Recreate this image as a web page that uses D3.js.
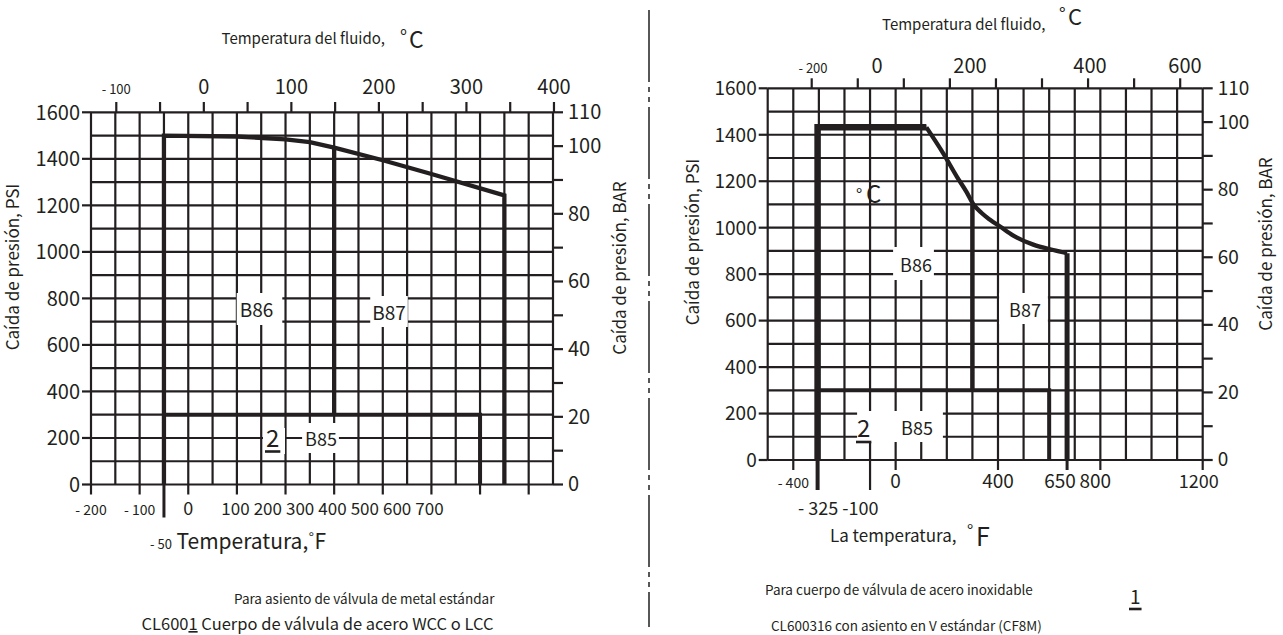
<!DOCTYPE html>
<html>
<head>
<meta charset="utf-8">
<script src="https://cdn.jsdelivr.net/npm/d3@7.9.0/dist/d3.min.js"></script>
<style>
  body { margin: 0; background: #fff; }
  svg { display: block; font-family: "Noto Sans CJK SC", "Noto Sans", sans-serif; }
</style>
</head>
<body>
<svg id="chart" width="1283" height="635"></svg>
<script>
// shared pressure axes
const psiGrid = [0, 100, 200, 300, 400, 500, 600, 700, 800, 900, 1000, 1100, 1200, 1300, 1400, 1500, 1600];
const psiLabels = [0, 200, 400, 600, 800, 1000, 1200, 1400, 1600];
const barTicks = [0, 10, 20, 30, 40, 50, 60, 70, 80, 90, 100, 110];
const barLabels = [0, 20, 40, 60, 80, 100, 110];

// left chart (WCC / LCC), x in degF
const leftFGrid = [-200, -150, -100, -50, 0, 50, 100, 150, 200, 250, 300, 350, 400, 450, 500, 550, 600, 650, 700, 750];
const leftFTicks = [-200, -100, 0, 100, 200, 300, 400, 500, 600, 700];
const leftFLabels = ['- 200', '- 100', '0'];
const leftFLabelAt = [-200, -100, 0];
const leftFPacked = ['100', '200', '300', '400', '500', '600', '700'];
const leftCTicks = [-100, -50, 0, 50, 100, 150, 200, 250, 300, 350, 400];
const leftCLabels = [-100, 0, 100, 200, 300, 400];
const leftCurve = [[-50, 1500], [100, 1496], [200, 1484], [250, 1472], [300, 1448], [400, 1394], [500, 1335], [650, 1243]];
const leftEdges = [-50, 300, 600, 650];   // cold limit, B86/B87 split, B85 end, hot limit
const b85Psi = 300;

// right chart (CF8M), x in degF
const rightFGrid = [-500, -400, -300, -200, -100, 0, 100, 200, 300, 400, 500, 600, 700, 800, 900, 1000, 1100, 1200];
const rightFTicks = [-400, 0, 400, 800, 1200];
const rightFLabels = ['- 400', '0', '400', '650', '800', '1200'];
const rightFLabelAt = [-400, 0, 400, 650, 800, 1200];
const rightCTicks = [-200, -100, 0, 100, 200, 300, 400, 500, 600];
const rightCLabels = [-200, 0, 200, 400, 600];
const rightTop = [[-305, 1432], [120, 1432]];
const rightCurve = [[120, 1432], [186, 1320], [239, 1220], [278, 1152], [303, 1102], [336, 1063],
                    [369, 1034], [408, 1005], [460, 966], [538, 927], [616, 904], [670, 890]];
const rightEdges = [-305, 300, 600, 670];

const ink = '#231f20';
const svg = d3.select('#chart');
svg.append('rect').attr('width', 1283).attr('height', 635).attr('fill', '#fff');

const c2f = c => c * 1.8 + 32;

function txt(g, s, x, y, size, anchor) {
  return g.append('text').attr('x', x).attr('y', y).attr('font-size', size)
    .attr('text-anchor', anchor || 'start').attr('fill', ink).text(s);
}

function boxed(g, s, x, y, size, pad) {
  const t = txt(g, s, x, y, size, 'middle');
  const b = t.node().getBBox();
  g.insert('rect', () => t.node())
    .attr('x', b.x - pad[0]).attr('y', b.y - pad[1])
    .attr('width', b.width + pad[0] + pad[2]).attr('height', b.height + pad[1] + pad[3])
    .attr('fill', '#fff');
  return t;
}

function underlined(g, s, x, y, size) {
  const t = txt(g, s, x, y, size);
  const b = t.node().getBBox();
  g.append('line').attr('x1', b.x - 1).attr('x2', b.x + b.width + 1)
    .attr('y1', y + 5).attr('y2', y + 5).attr('stroke', ink).attr('stroke-width', 2.6);
}

function drawGrid(g, x, y, fGrid) {
  g.selectAll('.gv').data(fGrid).join('line').attr('class', 'gv')
    .attr('x1', d => x(d)).attr('x2', d => x(d)).attr('y1', y(0)).attr('y2', y(1600))
    .attr('stroke', ink).attr('stroke-width', 2.2);
  g.selectAll('.gh').data(psiGrid).join('line').attr('class', 'gh')
    .attr('x1', x.range()[0]).attr('x2', x.range()[1]).attr('y1', d => y(d)).attr('y2', d => y(d))
    .attr('stroke', ink).attr('stroke-width', 2.2);
}

function drawPressureAxes(g, x, y, bar, size) {
  const x0 = x.range()[0], x1 = x.range()[1];
  g.selectAll('.pt').data(psiLabels).join('line').attr('class', 'pt')
    .attr('x1', x0 - 9).attr('x2', x0).attr('y1', d => y(d)).attr('y2', d => y(d))
    .attr('stroke', ink).attr('stroke-width', 2.2);
  g.selectAll('.pl').data(psiLabels).join('text').attr('class', 'pl')
    .attr('x', x0 - 11).attr('y', d => y(d)).attr('dy', '0.36em')
    .attr('text-anchor', 'end').attr('font-size', size).attr('fill', ink).text(d => d);
  g.selectAll('.bt').data(barTicks).join('line').attr('class', 'bt')
    .attr('x1', x1).attr('x2', x1 + 10).attr('y1', d => bar(d)).attr('y2', d => bar(d))
    .attr('stroke', ink).attr('stroke-width', 2.2);
  g.selectAll('.bl').data(barLabels).join('text').attr('class', 'bl')
    .attr('x', x1 + 15).attr('y', d => bar(d)).attr('dy', '0.34em')
    .attr('font-size', size).attr('fill', ink).text(d => d);
}

function vlabel(g, s, x, y) {
  g.append('text').attr('transform', `translate(${x},${y}) rotate(-90)`)
    .attr('text-anchor', 'middle').attr('dy', '0.35em').attr('font-size', 17)
    .attr('fill', ink).text(s);
}

function thick(g, pts, x, y, w, curve) {
  const line = d3.line().x(d => x(d[0])).y(d => y(d[1])).curve(curve || d3.curveLinear);
  g.append('path').attr('d', line(pts)).attr('fill', 'none')
    .attr('stroke', ink).attr('stroke-width', w).attr('stroke-linejoin', 'miter');
}

// ---------------- left chart ----------------
{
  const g = svg.append('g');
  const x = d3.scaleLinear().domain([-200, 750]).range([91, 553]);
  const y = d3.scaleLinear().domain([0, 1600]).range([484.5, 112.3]);
  const bar = d3.scaleLinear().domain([0, 110]).range([484.5, 112.3]);

  drawGrid(g, x, y, leftFGrid);

  // top degC axis
  g.selectAll('.ct').data(leftCTicks).join('line').attr('class', 'ct')
    .attr('x1', d => x(c2f(d))).attr('x2', d => x(c2f(d))).attr('y1', 102).attr('y2', y(1600))
    .attr('stroke', ink).attr('stroke-width', 2.2);
  g.selectAll('.cl').data(leftCLabels).join('text').attr('class', 'cl')
    .attr('x', d => x(c2f(d))).attr('y', 94).attr('text-anchor', 'middle')
    .attr('font-size', d => d < 0 ? 13 : 20).attr('fill', ink)
    .text(d => d < 0 ? '- ' + (-d) : d);

  // bottom degF axis
  g.selectAll('.ft').data(leftFTicks).join('line').attr('class', 'ft')
    .attr('x1', d => x(d)).attr('x2', d => x(d)).attr('y1', y(0)).attr('y2', y(0) + 10)
    .attr('stroke', ink).attr('stroke-width', 2.2);
  g.selectAll('.fl').data(leftFLabels).join('text').attr('class', 'fl')
    .attr('x', (d, i) => x(leftFLabelAt[i])).attr('y', 515).attr('text-anchor', 'middle')
    .attr('font-size', (d, i) => i < 2 ? 14 : 18).attr('fill', ink).text(d => d);
  const packed = d3.scalePoint().domain(leftFPacked).range([235.5, 429.5]);
  g.selectAll('.fp').data(leftFPacked).join('text').attr('class', 'fp')
    .attr('x', d => packed(d)).attr('y', 515).attr('text-anchor', 'middle')
    .attr('font-size', 17).attr('fill', ink).text(d => d);

  drawPressureAxes(g, x, y, bar, 20);

  // limits
  thick(g, [[leftEdges[0], 0], ...leftCurve, [leftEdges[3], 0]], x, y, 4.3);
  g.append('line').attr('x1', x(leftEdges[0])).attr('x2', x(leftEdges[0]))
    .attr('y1', y(0)).attr('y2', y(0) + 33).attr('stroke', ink).attr('stroke-width', 3);
  thick(g, [[leftEdges[1], b85Psi], [leftEdges[1], 1448]], x, y, 4.3);
  thick(g, [[leftEdges[0], b85Psi], [leftEdges[2], b85Psi], [leftEdges[2], 0]], x, y, 4);

  boxed(g, 'B86', 256.5, 317, 19, [3, 2, 9, 3]);
  boxed(g, 'B87', 389, 320, 19, [2, 2, 2, 2]);
  boxed(g, 'B85', 321, 446, 18, [3, 2, 2, 2]);
  g.append('rect').attr('x', 263).attr('y', 428).attr('width', 22).attr('height', 26).attr('fill', '#fff');
  underlined(g, '2', 266, 446.5, 24);

  // titles
  txt(g, 'Temperatura del fluido,', 221.5, 44, 15);
  txt(g, '°', 400, 44, 19);
  txt(g, 'C', 409, 47.5, 23);
  txt(g, '- 50', 150, 549, 13);
  const tf = txt(g, 'Temperatura,', 176.5, 549, 21);
  const tfEnd = tf.node().getBBox();
  const deg = txt(g, '°', tfEnd.x + tfEnd.width + 0.5, 543, 14);
  const degBox = deg.node().getBBox();
  txt(g, 'F', degBox.x + degBox.width + 0.5, 549, 21);
  vlabel(g, 'Caída de presión, PSI', 13, 267);
  vlabel(g, 'Caída de presión, BAR', 620, 268);

  txt(g, 'Para asiento de válvula de metal estándar', 234, 604, 13.5);
  const cl = txt(g, 'CL600', 141.5, 630, 16.5);
  cl.append('tspan').attr('text-decoration', 'underline').text('1');
  cl.append('tspan').text(' Cuerpo de válvula de acero WCC o LCC');
}

// divider
svg.append('line').attr('x1', 649).attr('x2', 649).attr('y1', 10).attr('y2', 627)
  .attr('stroke', ink).attr('stroke-width', 1.5).attr('stroke-dasharray', '72,5,5,5,5,5');

// ---------------- right chart ----------------
{
  const g = svg.append('g');
  const x = d3.scaleLinear().domain([-500, 1200]).range([767.7, 1202.7]);
  const y = d3.scaleLinear().domain([0, 1600]).range([460, 88.3]);
  const bar = d3.scaleLinear().domain([0, 110]).range([460, 88.3]);

  drawGrid(g, x, y, rightFGrid);

  // top degC axis
  g.selectAll('.ct').data(rightCTicks).join('line').attr('class', 'ct')
    .attr('x1', d => x(c2f(d))).attr('x2', d => x(c2f(d))).attr('y1', 78.3).attr('y2', y(1600))
    .attr('stroke', ink).attr('stroke-width', 2.2);
  // labels as printed (not all centred on their ticks)
  const cLabelX = d3.scaleLinear().domain([-200, 0, 200, 400, 600]).range([813, 877, 970, 1090, 1185]);
  g.selectAll('.cl').data(rightCLabels).join('text').attr('class', 'cl')
    .attr('x', d => cLabelX(d)).attr('y', 73).attr('text-anchor', 'middle')
    .attr('font-size', d => d < 0 ? 13 : 20).attr('fill', ink)
    .text(d => d < 0 ? '- ' + (-d) : d);

  // bottom degF axis
  g.selectAll('.ft').data(rightFTicks).join('line').attr('class', 'ft')
    .attr('x1', d => x(d)).attr('x2', d => x(d)).attr('y1', y(0)).attr('y2', y(0) + 10)
    .attr('stroke', ink).attr('stroke-width', 2.2);
  g.append('line').attr('x1', x(-100)).attr('x2', x(-100)).attr('y1', y(0)).attr('y2', y(0) + 30)
    .attr('stroke', ink).attr('stroke-width', 2.2);
  const labelNudge = [0, 0, 0, -2, -5, -4];
  g.selectAll('.fl').data(rightFLabels).join('text').attr('class', 'fl')
    .attr('x', (d, i) => x(rightFLabelAt[i]) + labelNudge[i]).attr('y', 488).attr('text-anchor', 'middle')
    .attr('font-size', (d, i) => i === 0 ? 14 : (i === 5 ? 18 : 19)).attr('fill', ink).text(d => d);
  txt(g, '- 325 -100', 798, 515, 18);

  drawPressureAxes(g, x, y, bar, 19);

  // limits
  thick(g, [[rightEdges[0], 0], ...rightTop], x, y, 6.5);
  g.append('line').attr('x1', x(rightEdges[0])).attr('x2', x(rightEdges[0]))
    .attr('y1', y(0)).attr('y2', y(0) + 30).attr('stroke', ink).attr('stroke-width', 4);
  thick(g, rightTop, x, y, 4);
  thick(g, rightCurve, x, y, 4.3, d3.curveMonotoneX);
  thick(g, [rightCurve[rightCurve.length - 1], [rightEdges[3], 0]], x, y, 5);
  g.append('line').attr('x1', x(rightEdges[3])).attr('x2', x(rightEdges[3]))
    .attr('y1', y(0)).attr('y2', y(0) + 10).attr('stroke', ink).attr('stroke-width', 3);
  thick(g, [[rightEdges[1], b85Psi], [rightEdges[1], 1102]], x, y, 4.5);
  thick(g, [[rightEdges[0], b85Psi], [rightEdges[2], b85Psi], [rightEdges[2], 0]], x, y, 4);

  boxed(g, 'B86', 916, 272, 18, [7, 4, 2, 3]);
  boxed(g, 'B87', 1025, 317, 18, [10, 3, 7, 2]);
  boxed(g, 'B85', 917, 435, 18, [44, 3, 10, 2]);
  underlined(g, '2', 857, 437, 24);

  txt(g, '°', 856, 201, 17);
  txt(g, 'C', 866, 203, 24);

  txt(g, 'Temperatura del fluido,', 882, 30, 15);
  txt(g, '°', 1059, 21, 18);
  txt(g, 'C', 1068, 24.5, 22);
  txt(g, 'La temperatura,', 830, 542, 17);
  txt(g, '°', 967, 537, 17);
  txt(g, 'F', 976, 546, 25);
  vlabel(g, 'Caída de presión, PSI', 693, 242);
  vlabel(g, 'Caída de presión, BAR', 1266.5, 244);

  txt(g, 'Para cuerpo de válvula de acero inoxidable', 765, 595, 13.5);
  txt(g, 'CL600316 con asiento en V estándar (CF8M)', 771, 631, 13.5);
  underlined(g, '1', 1130, 604, 19);
}
</script>
</body>
</html>
